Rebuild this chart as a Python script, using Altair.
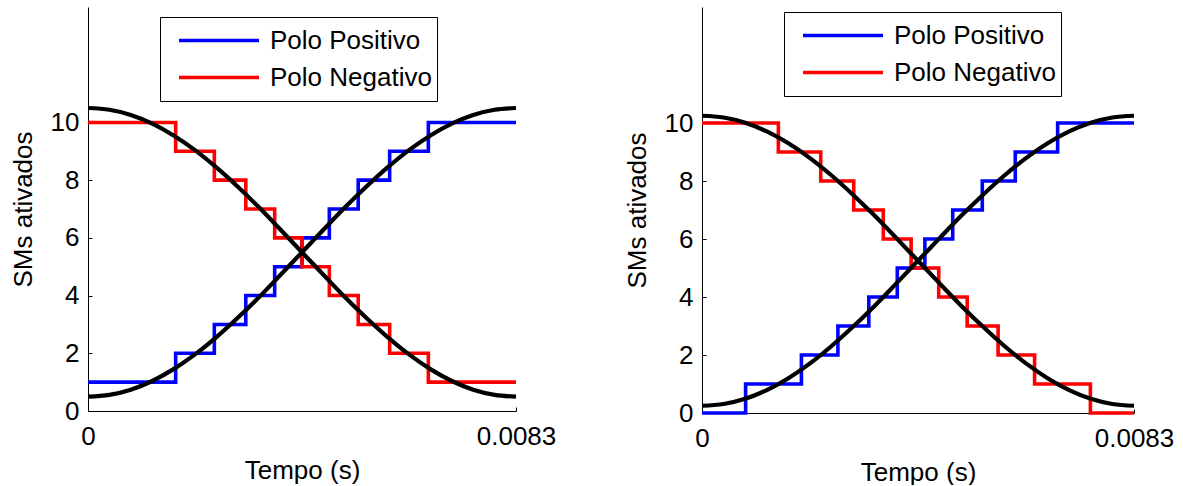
import altair as alt
import pandas as pd

T_END = 0.0083

# Left panel: step transitions (s) and levels
left_t = [0, 0.0017, 0.00245, 0.00306, 0.00362, 0.00415, 0.00468, 0.00524, 0.00585, 0.0066, 0.0083]
left_neg_v = [10, 9, 8, 7, 6, 5, 4, 3, 2, 1, 1]
left_pos_v = [1, 2, 3, 4, 5, 6, 7, 8, 9, 10, 10]

# Right panel
right_neg_t = [0, 0.001467, 0.002281, 0.002915, 0.003483, 0.004018, 0.004548, 0.005095, 0.005689, 0.00639, 0.007462, 0.0083]
right_neg_v = [10, 9, 8, 7, 6, 5, 4, 3, 2, 1, 0, 0]
right_pos_t = [0, 0.000838, 0.00191, 0.002611, 0.003205, 0.003752, 0.004282, 0.004817, 0.005385, 0.006019, 0.006833, 0.0083]
right_pos_v = [0, 1, 2, 3, 4, 5, 6, 7, 8, 9, 10, 10]

# Reference (black) curves sampled along time
curve_t = [0, 0.000415, 0.00083, 0.001245, 0.00166, 0.002075, 0.00249, 0.002905, 0.00332, 0.003735,
           0.00415, 0.004565, 0.00498, 0.005395, 0.00581, 0.006225, 0.00664, 0.007055, 0.00747, 0.007885, 0.0083]
left_down = [10.5, 10.44, 10.26, 9.96, 9.55, 9.04, 8.44, 7.77, 7.05, 6.28, 5.5, 4.72, 3.95, 3.23, 2.56, 1.96, 1.45, 1.04, 0.74, 0.56, 0.5]
left_up = [0.5, 0.56, 0.74, 1.04, 1.45, 1.96, 2.56, 3.23, 3.95, 4.72, 5.5, 6.28, 7.05, 7.77, 8.44, 9.04, 9.55, 9.96, 10.26, 10.44, 10.5]
right_down = [10.25, 10.19, 10.01, 9.71, 9.30, 8.79, 8.19, 7.52, 6.80, 6.03, 5.25, 4.47, 3.70, 2.98, 2.31, 1.71, 1.20, 0.79, 0.49, 0.31, 0.25]
right_up = [0.25, 0.31, 0.49, 0.79, 1.20, 1.71, 2.31, 2.98, 3.70, 4.47, 5.25, 6.03, 6.80, 7.52, 8.19, 8.79, 9.30, 9.71, 10.01, 10.19, 10.25]

series_names = ["Polo Positivo", "Polo Negativo"]
series_colors = ["#0000ff", "#ff0000"]
x_ticks = [0, 0.0083]
y_ticks = [0, 2, 4, 6, 8, 10]

FONT = "Liberation Sans"
FS = 26


def panel(pos_t, pos_v, neg_t, neg_v, up, down, w, h, lx, ly):
    steps = pd.concat([
        pd.DataFrame({"t": pos_t, "v": pos_v, "serie": series_names[0]}),
        pd.DataFrame({"t": neg_t, "v": neg_v, "serie": series_names[1]}),
    ])
    curves = pd.concat([
        pd.DataFrame({"t": curve_t, "v": up, "c": "up"}),
        pd.DataFrame({"t": curve_t, "v": down, "c": "down"}),
    ])
    xs = alt.Scale(domain=[0, T_END], nice=False, zero=False)
    ys = alt.Scale(domain=[0, 14], nice=False)
    step_layer = alt.Chart(steps).mark_line(interpolate="step-after", strokeWidth=3.6).encode(
        x=alt.X("t:Q", scale=xs, axis=alt.Axis(values=x_ticks, format=".4~f", labelFlush=False,
                                               ticks=False, title="Tempo (s)", labelPadding=12,
                                               titlePadding=8)),
        y=alt.Y("v:Q", scale=ys, axis=alt.Axis(values=y_ticks, ticks=False, title="SMs ativados",
                                               labelPadding=9, titlePadding=14)),
        color=alt.Color("serie:N", scale=alt.Scale(domain=series_names, range=series_colors),
                        legend=alt.Legend(orient="none", legendX=lx, legendY=ly, title=None,
                                          direction="vertical", symbolType="stroke",
                                          symbolSize=6400, symbolStrokeWidth=3.6, clipHeight=37,
                                          rowPadding=0, padding=5, symbolOffset=12, labelOffset=9,
                                          labelFontSize=FS, labelFont=FONT, labelColor="black",
                                          labelLimit=400, strokeColor="black")),
        order="t:Q",
    )
    curve_layer = alt.Chart(curves).mark_line(interpolate="monotone", strokeWidth=4.2, color="black").encode(
        x=alt.X("t:Q", scale=xs, axis=alt.Axis(orient="top", offset=-h, values=x_ticks, labels=False,
                                               domain=False, ticks=True, tickSize=4, title=None)),
        y=alt.Y("v:Q", scale=ys, axis=alt.Axis(orient="right", offset=-w, values=y_ticks, labels=False,
                                               domain=False, ticks=True, tickSize=4, title=None)),
        detail="c:N",
        order="t:Q",
    )
    return alt.layer(step_layer, curve_layer).resolve_axis(x="independent", y="independent").properties(
        width=w, height=h)


left = panel(left_t, left_pos_v, left_t, left_neg_v, left_up, left_down, 428, 404, 72, 10)
right = panel(right_pos_t, right_pos_v, right_neg_t, right_neg_v, right_up, right_down, 432, 406, 82, 5)

chart = alt.hconcat(left, right, spacing=68).resolve_legend(color="independent").properties(
    padding={"left": 10, "top": 7, "right": 5, "bottom": 0},
    background="white",
).configure_view(stroke=None).configure_axis(
    grid=False, domainColor="black", domainWidth=1, tickColor="black", tickWidth=1,
    labelColor="black", titleColor="black", labelFont=FONT, titleFont=FONT,
    labelFontSize=FS, titleFontSize=FS, titleFontWeight="normal"
)

chart.save("out.html", embed_options={"renderer": "svg", "actions": False})
